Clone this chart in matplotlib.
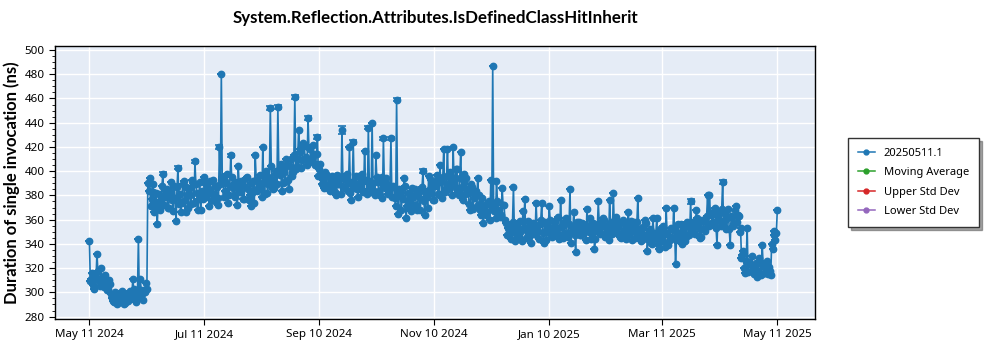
import numpy as np
import pandas as pd
import matplotlib
matplotlib.use("Agg")
import matplotlib.pyplot as plt
import matplotlib.dates as mdates
from matplotlib.ticker import MultipleLocator
from matplotlib.lines import Line2D

title = "System.Reflection.Attributes.IsDefinedClassHitInherit"
ylabel = "Duration of single invocation (ns)"
series_name = "20250511.1"
legend_names = ["Moving Average", "Upper Std Dev", "Lower Std Dev"]
legend_colors = ["#2ca02c", "#d62728", "#9467bd"]

start_date = "2024-05-11"
# morning runs (one per day, from 2024-05-11 to 2025-05-11)
values_am = [
    342, 311, 306, 313, 332, 309, 320, 312, 305, 308,
    303, 307, 295, 292, 297, 294, 299, 293, 296, 291,
    297, 295, 299, 311, 296, 300, 344, 311, 299, 302,
    308, 390, 394, 377, 383, 372, 356, 381, 376, 398,
    379, 385, 370, 383, 376, 388, 359, 403, 381, 374,
    392, 366, 380, 386, 373, 390, 408, 382, 377, 368,
    384, 395, 379, 386, 392, 376, 381, 388, 372, 420,
    480, 390, 384, 398, 380, 413, 386, 379, 391, 404,
    383, 389, 377, 394, 385, 380, 371, 392, 413, 384,
    390, 386, 420, 381, 396, 389, 452, 393, 386, 400,
    453, 397, 384, 402, 391, 405, 385, 410, 399, 461,
    404, 434, 416, 409, 421, 412, 444, 418, 410, 414,
    406, 428, 402, 396, 393, 399, 388, 395, 390, 386,
    392, 380, 389, 395, 434, 387, 393, 384, 420, 376,
    424, 390, 385, 396, 388, 383, 417, 392, 436, 387,
    440, 384, 413, 391, 380, 395, 427, 386, 389, 382,
    427, 388, 378, 459, 365, 384, 379, 394, 361, 382,
    375, 386, 372, 380, 368, 383, 377, 400, 364, 379,
    396, 382, 388, 376, 392, 381, 405, 378, 418, 386,
    418, 390, 395, 420, 387, 402, 380, 416, 376, 392,
    394, 382, 368, 387, 378, 384, 394, 373, 364, 357,
    372, 366, 375, 393, 487, 371, 392, 366, 362, 386,
    372, 357, 353, 349, 352, 387, 342, 355, 348, 351,
    367, 377, 352, 346, 350, 355, 348, 374, 351, 356,
    374, 341, 358, 350, 371, 353, 347, 359, 352, 344,
    376, 355, 349, 361, 346, 385, 351, 366, 333, 354,
    358, 347, 356, 352, 369, 350, 344, 357, 336, 353,
    375, 348, 355, 360, 347, 352, 376, 351, 382, 356,
    349, 357, 345, 360, 352, 348, 366, 355, 343, 358,
    352, 378, 347, 353, 344, 360, 334, 349, 341, 361,
    345, 361, 336, 348, 342, 350, 370, 339, 346, 352,
    370, 323, 349, 344, 356, 351, 342, 358, 347, 375,
    353, 349, 368, 356, 345, 360, 352, 358, 380, 380,
    364, 358, 370, 339, 366, 355, 391, 360, 352, 369,
    339, 362, 356, 371, 364, 350, 328, 334, 316, 353,
    325, 318, 322, 320, 313, 318, 324, 339, 316, 320,
    315, 318, 340, 351, 343, 368,
]
# evening runs (one per day, from 2024-05-11 to 2025-05-10)
values_pm = [
    309, 316, 303, 311, 318, 305, 313, 304, 314, 302,
    310, 299, 293, 300, 290, 297, 292, 301, 290, 298,
    293, 301, 295, 303, 292, 299, 296, 302, 294, 300,
    303, 384, 371, 389, 366, 382, 374, 368, 388, 372,
    384, 370, 380, 391, 367, 378, 387, 373, 366, 389,
    376, 387, 370, 380, 393, 374, 389, 368, 391, 382,
    377, 390, 384, 371, 382, 393, 375, 387, 378, 389,
    395, 379, 391, 374, 388, 395, 380, 390, 372, 387,
    392, 377, 387, 395, 376, 390, 382, 374, 393, 386,
    397, 379, 390, 400, 382, 394, 404, 385, 398, 389,
    401, 406, 390, 399, 410, 393, 404, 396, 413, 402,
    410, 418, 403, 423, 410, 405, 419, 408, 422, 405,
    414, 396, 406, 389, 386, 398, 388, 384, 396, 387,
    383, 397, 389, 381, 394, 386, 398, 390, 382, 391,
    386, 396, 379, 390, 398, 384, 393, 381, 392, 383,
    390, 380, 395, 384, 392, 378, 389, 394, 381, 388,
    379, 387, 371, 380, 385, 368, 377, 388, 371, 375,
    367, 379, 385, 372, 381, 368, 387, 375, 383, 370,
    385, 393, 376, 388, 397, 381, 391, 395, 383, 396,
    385, 399, 380, 392, 402, 383, 394, 387, 398, 381,
    385, 373, 389, 369, 382, 371, 380, 368, 378, 366,
    364, 374, 360, 371, 367, 361, 375, 368, 364, 372,
    360, 347, 355, 344, 358, 350, 354, 346, 359, 342,
    353, 345, 359, 350, 341, 357, 348, 355, 344, 360,
    349, 357, 343, 354, 360, 346, 355, 349, 362, 347,
    354, 345, 359, 348, 356, 341, 353, 347, 358, 350,
    347, 357, 350, 343, 355, 361, 348, 354, 344, 352,
    357, 349, 361, 346, 355, 343, 358, 348, 354, 362,
    354, 346, 358, 350, 344, 356, 348, 359, 351, 345,
    358, 350, 342, 354, 347, 357, 344, 352, 340, 349,
    347, 340, 352, 344, 355, 337, 349, 342, 353, 345,
    352, 343, 356, 348, 340, 353, 346, 357, 349, 354,
    358, 348, 361, 353, 346, 359, 351, 363, 355, 365,
    357, 367, 353, 362, 359, 369, 355, 365, 361, 352,
    363, 355, 368, 358, 363, 353, 331, 320, 326, 317,
    323, 330, 315, 324, 317, 328, 314, 322, 316, 326,
    321, 314, 336, 347, 349,
]
# morning-run days that show visible error-bar caps, and their half-widths
err_days = [39, 47, 56, 69, 75, 96, 100, 109, 116, 121, 134, 140, 148, 156, 160, 163, 177, 236, 319, 336]
err_vals = [1.5, 1.5, 1.5, 2.0, 1.5, 1.5, 1.5, 1.5, 1.5, 1.5, 3.0, 1.5, 1.5, 1.5, 1.5, 1.5, 1.5, 1.5, 2.0, 1.5]

tick_dates = ["2024-05-11", "2024-07-11", "2024-09-10", "2024-11-10",
              "2025-01-10", "2025-03-11", "2025-05-11"]
xlim_dates = ["2024-04-22 18:00", "2025-05-31"]
y_ticks = list(range(280, 501, 20))

dates_am = pd.date_range(start_date, periods=len(values_am), freq="D")
dates_pm = pd.date_range(start_date, periods=len(values_pm), freq="D") + pd.Timedelta(hours=12)
err_am = np.zeros(len(values_am))
err_am[err_days] = err_vals

df = pd.DataFrame({
    "t": list(dates_am) + list(dates_pm),
    "v": list(values_am) + list(values_pm),
    "e": list(err_am) + [0.0] * len(values_pm),
}).sort_values("t")

plt.rcParams["font.family"] = ["Noto Sans", "DejaVu Sans"]

fig = plt.figure(figsize=(10, 3.5), dpi=100)
ax = fig.add_axes([0.055, 0.0886, 0.76, 0.78])
ax.set_facecolor("#e5ecf6")
ax.set_axisbelow(True)
ax.grid(True, color="white", lw=1.0)

blue = "#1f77b4"
ax.errorbar(df["t"], df["v"], yerr=df["e"], color=blue, marker="o", ms=4.6,
            lw=1.2, capsize=3, elinewidth=1, capthick=1.2)

ax.set_xlim(pd.Timestamp(xlim_dates[0]), pd.Timestamp(xlim_dates[1]))
ax.set_ylim(278, 503.3)
ax.set_yticks(y_ticks)
ax.yaxis.set_minor_locator(MultipleLocator(5))
ax.set_xticks([pd.Timestamp(d) for d in tick_dates])
ax.xaxis.set_major_formatter(mdates.DateFormatter("%b %d %Y"))
ax.tick_params(axis="both", labelsize=8.3, length=4, color="black")
ax.tick_params(axis="y", which="minor", length=2)
for s in ax.spines.values():
    s.set_color("black")
    s.set_linewidth(1.0)

ax.set_ylabel(ylabel, fontsize=12, fontweight="bold", labelpad=3,
              family=["Lato", "DejaVu Sans"])
fig.text(0.435, 0.948, title, ha="center", va="center", fontsize=12.2,
         fontweight="bold", family=["Lato", "DejaVu Sans"])

handles = [Line2D([], [], color=c, marker="o", ms=3.5, lw=1.1)
           for c in [blue] + legend_colors]
labels = [series_name] + legend_names
leg = ax.legend(handles, labels, loc="center left", bbox_to_anchor=(0.848, 0.479),
                bbox_transform=fig.transFigure, fontsize=8, frameon=True,
                fancybox=False, shadow=True, edgecolor="#333333",
                handlelength=1.5, borderpad=0.9, labelspacing=0.75,
                borderaxespad=0)
leg.get_frame().set_linewidth(1.0)

fig.savefig("out.png", dpi=100)
